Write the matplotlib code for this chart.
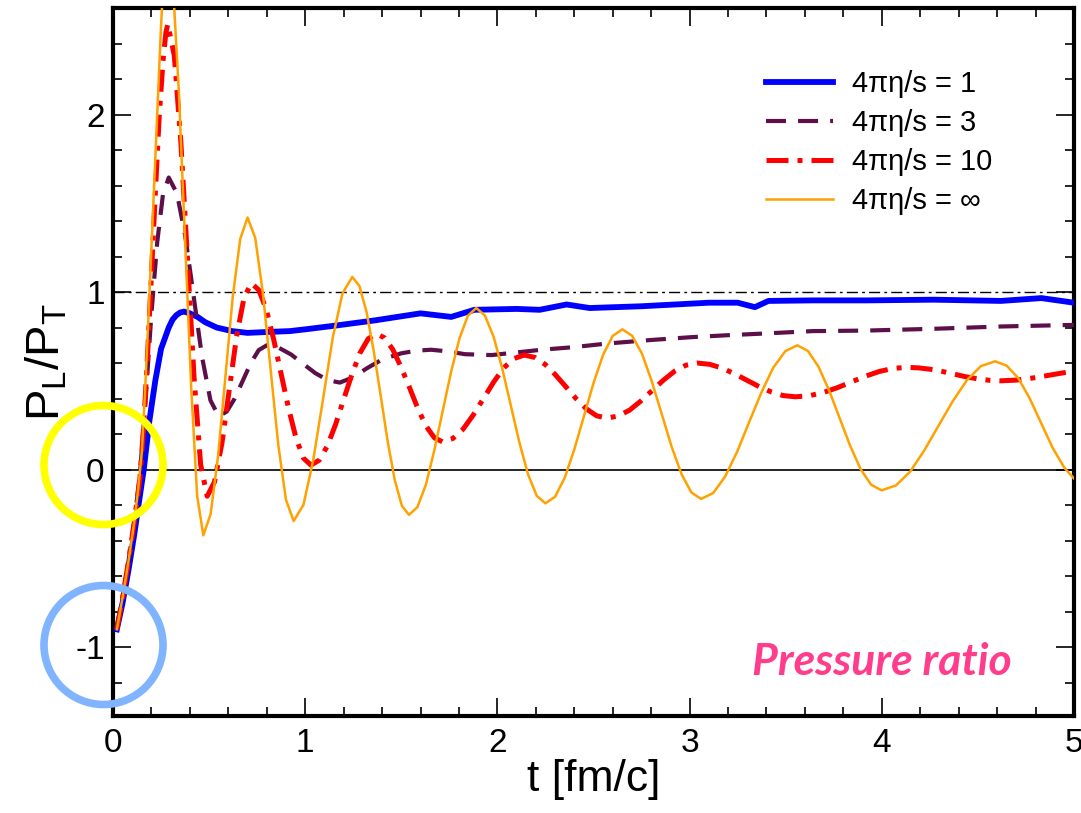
import numpy as np
import matplotlib.pyplot as plt
from matplotlib.patches import Circle

plt.rcParams['font.family'] = ['Liberation Sans', 'DejaVu Sans']
plt.rcParams['mathtext.fontset'] = 'custom'
plt.rcParams['mathtext.rm'] = 'Liberation Sans'
plt.rcParams['mathtext.it'] = 'Liberation Sans:italic'
plt.rcParams['axes.unicode_minus'] = False

# --- P_L/P_T versus proper time for several 4*pi*eta/s -----------------------
t_visc1 = [0.02, 0.05, 0.08, 0.11, 0.13, 0.16, 0.19, 0.22, 0.25, 0.29, 0.31,
           0.33, 0.35, 0.37, 0.40, 0.44, 0.48, 0.54, 0.62, 0.70, 0.80, 0.92,
           1.00, 1.15, 1.36, 1.60, 1.68, 1.76, 1.88, 2.10, 2.22, 2.36, 2.48,
           2.75, 3.10, 3.25, 3.34, 3.41, 3.64, 3.92, 4.27, 4.62, 4.83, 5.00]
r_visc1 = [-0.90, -0.75, -0.57, -0.37, -0.22, 0.00, 0.28, 0.50, 0.68, 0.80,
           0.845, 0.87, 0.885, 0.89, 0.88, 0.86, 0.83, 0.80, 0.78, 0.77,
           0.775, 0.78, 0.79, 0.81, 0.84, 0.88, 0.87, 0.86, 0.90, 0.905,
           0.90, 0.93, 0.91, 0.92, 0.94, 0.94, 0.915, 0.95, 0.953, 0.953,
           0.957, 0.95, 0.966, 0.94]

t_visc3 = [0.02, 0.05, 0.08, 0.11, 0.14, 0.17, 0.20, 0.23, 0.26, 0.29, 0.333,
           0.377, 0.42, 0.463, 0.507, 0.55, 0.592, 0.633, 0.675, 0.717, 0.758,
           0.80, 0.863, 0.927, 0.99, 1.053, 1.117, 1.18, 1.25, 1.32, 1.40,
           1.50, 1.58, 1.655, 1.75, 1.83, 1.97, 2.10, 2.23, 2.40, 2.57, 2.80,
           3.01, 3.20, 3.36, 3.64, 3.92, 4.27, 4.62, 5.00]
r_visc3 = [-0.90, -0.72, -0.52, -0.30, -0.03, 0.40, 0.88, 1.28, 1.55, 1.645,
           1.555, 1.309, 0.973, 0.636, 0.39, 0.30, 0.327, 0.40, 0.50, 0.60,
           0.673, 0.70, 0.686, 0.648, 0.595, 0.543, 0.504, 0.49, 0.52, 0.57,
           0.62, 0.655, 0.670, 0.675, 0.665, 0.65, 0.645, 0.66, 0.675, 0.69,
           0.71, 0.73, 0.746, 0.757, 0.765, 0.78, 0.783, 0.793, 0.806, 0.815]

t_visc10 = [0.02, 0.05, 0.08, 0.11, 0.14, 0.16, 0.18, 0.20, 0.22, 0.24, 0.26,
            0.275, 0.285, 0.319, 0.353, 0.388, 0.422, 0.456, 0.49, 0.528,
            0.567, 0.605, 0.643, 0.682, 0.72, 0.759, 0.798, 0.836, 0.875,
            0.914, 0.953, 0.991, 1.03, 1.073, 1.115, 1.158, 1.20, 1.243,
            1.285, 1.328, 1.37, 1.413, 1.456, 1.499, 1.543, 1.586, 1.629,
            1.672, 1.715, 1.768, 1.821, 1.874, 1.928, 1.981, 2.034, 2.087,
            2.14, 2.194, 2.248, 2.301, 2.355, 2.409, 2.463, 2.516, 2.57,
            2.629, 2.688, 2.746, 2.805, 2.864, 2.923, 2.981, 3.04, 3.104,
            3.168, 3.231, 3.295, 3.359, 3.423, 3.486, 3.55, 3.623, 3.695,
            3.768, 3.84, 3.913, 3.985, 4.058, 4.13, 4.191, 4.253, 4.314,
            4.375, 4.436, 4.498, 4.559, 4.62, 4.70, 4.80, 4.90, 5.00]
r_visc10 = [-0.90, -0.72, -0.52, -0.30, -0.05, 0.25, 0.65, 1.10, 1.55, 1.98,
            2.30, 2.46, 2.51, 2.332, 1.845, 1.18, 0.515, 0.028, -0.15, -0.07,
            0.15, 0.45, 0.75, 0.97, 1.05, 1.011, 0.90, 0.733, 0.538, 0.342,
            0.175, 0.064, 0.025, 0.053, 0.133, 0.254, 0.395, 0.536, 0.657,
            0.737, 0.765, 0.742, 0.676, 0.577, 0.461, 0.344, 0.245, 0.179,
            0.156, 0.175, 0.227, 0.307, 0.401, 0.494, 0.574, 0.626, 0.645,
            0.632, 0.593, 0.535, 0.468, 0.40, 0.342, 0.303, 0.29, 0.302,
            0.335, 0.386, 0.445, 0.504, 0.555, 0.588, 0.60, 0.593, 0.572,
            0.541, 0.505, 0.469, 0.438, 0.417, 0.41, 0.416, 0.434, 0.461,
            0.493, 0.525, 0.552, 0.57, 0.576, 0.573, 0.565, 0.553, 0.538,
            0.523, 0.511, 0.503, 0.50, 0.504, 0.518, 0.537, 0.555]

t_ideal = [0.02, 0.05, 0.08, 0.11, 0.13, 0.15, 0.165, 0.18, 0.19, 0.21, 0.23,
           0.25, 0.265, 0.28, 0.312, 0.343, 0.375, 0.407, 0.438, 0.47, 0.508,
           0.547, 0.585, 0.623, 0.662, 0.70, 0.74, 0.78, 0.82, 0.86, 0.90,
           0.94, 0.991, 1.042, 1.093, 1.143, 1.194, 1.245, 1.282, 1.319,
           1.356, 1.393, 1.429, 1.466, 1.503, 1.54, 1.584, 1.628, 1.671,
           1.715, 1.759, 1.803, 1.846, 1.89, 1.935, 1.98, 2.025, 2.07, 2.115,
           2.16, 2.205, 2.25, 2.30, 2.35, 2.40, 2.45, 2.50, 2.55, 2.60, 2.65,
           2.701, 2.753, 2.804, 2.855, 2.906, 2.958, 3.009, 3.06, 3.123,
           3.185, 3.248, 3.31, 3.373, 3.435, 3.498, 3.56, 3.615, 3.67, 3.725,
           3.78, 3.835, 3.89, 3.945, 4.00, 4.074, 4.148, 4.221, 4.295, 4.369,
           4.443, 4.516, 4.59, 4.65, 4.71, 4.77, 4.83, 4.89, 4.95, 5.00]
r_ideal = [-0.90, -0.72, -0.52, -0.30, -0.12, 0.10, 0.40, 0.75, 1.00, 1.50,
           2.00, 2.50, 2.80, 2.95, 2.73, 2.12, 1.29, 0.46, -0.15, -0.37,
           -0.25, 0.078, 0.525, 0.973, 1.30, 1.42, 1.305, 0.993, 0.565, 0.138,
           -0.17, -0.29, -0.198, 0.054, 0.398, 0.741, 0.993, 1.085, 1.034,
           0.889, 0.671, 0.415, 0.159, -0.059, -0.204, -0.255, -0.211, -0.085,
           0.105, 0.328, 0.55, 0.74, 0.866, 0.91, 0.868, 0.749, 0.57, 0.36,
           0.15, -0.029, -0.148, -0.19, -0.153, -0.047, 0.113, 0.30, 0.487,
           0.647, 0.753, 0.79, 0.754, 0.651, 0.495, 0.313, 0.13, -0.026,
           -0.129, -0.165, -0.132, -0.039, 0.102, 0.268, 0.433, 0.574, 0.667,
           0.70, 0.669, 0.581, 0.448, 0.292, 0.135, 0.002, -0.086, -0.117,
           -0.089, -0.011, 0.108, 0.247, 0.385, 0.504, 0.583, 0.61, 0.585,
           0.515, 0.40, 0.26, 0.12, 0.01, -0.05]

labels = ["4πη/s = 1", "4πη/s = 3", "4πη/s = 10", "4πη/s = ∞"]

W, H = 1081, 813
fig = plt.figure(figsize=(W / 100, H / 100), dpi=100)
ax = fig.add_axes([113 / W, 1 - 716 / H, (1074 - 113) / W, (716 - 8) / H])

# reference levels
ax.axhline(1.0, color="black", lw=1.0, ls=(0, (8, 3, 2, 3)), zorder=1)
ax.axhline(0.0, color="black", lw=1.2, zorder=1)

ax.plot(t_visc1, r_visc1, color="#0000ff", lw=4.2, label=labels[0], zorder=3)
ax.plot(t_visc3, r_visc3, color="#5c0f48", lw=3.0, ls=(0, (4.8, 2.9)),
        label=labels[1], zorder=3)
ax.plot(t_visc10, r_visc10, color="#ff0000", lw=3.6,
        ls=(0, (4.4, 1.8, 1.0, 1.8)), label=labels[2], zorder=3)
ax.plot(t_ideal, r_ideal, color="#ffa100", lw=1.8, label=labels[3], zorder=4)

ax.set_xlim(0, 5)
ax.set_ylim(-1.388, 2.59)
ax.set_xticks([0, 1, 2, 3, 4, 5])
ax.set_yticks([-1, 0, 1, 2])
ax.set_xticks(np.arange(0, 5.01, 0.2), minor=True)
ax.set_yticks(np.arange(-1.2, 2.61, 0.2), minor=True)
ax.tick_params(which="both", direction="in", top=True, right=True,
               labelsize=24, width=1.2)
ax.tick_params(which="major", length=13, pad=9)
ax.tick_params(axis="y", which="major", pad=6)
ax.tick_params(which="minor", length=6.5)
for s in ax.spines.values():
    s.set_linewidth(3.0)

ax.set_xlabel("t [fm/c]", fontsize=32, labelpad=0)
ax.set_ylabel(r"$\mathrm{P_L/P_T}$", fontsize=34, labelpad=4)

ax.legend(loc="upper left", bbox_to_anchor=(766 / W, 1 - 70 / H),
          bbox_transform=fig.transFigure, frameon=False, fontsize=21,
          handlelength=2.3, handletextpad=0.65, labelspacing=0.38,
          borderpad=0, borderaxespad=0)

fig.text(882 / W, 1 - 662 / H, "Pressure ratio", color="#ff3d8c",
         fontsize=32, fontweight="bold", fontstyle="italic",
         family=["Lato", "DejaVu Sans"], ha="center", va="center")

# highlight rings around the 0 and -1 tick labels
for cy, col in [(465, "#ffff00"), (645, "#80b4ff")]:
    ring = Circle((103.5 / 100, (H - cy) / 100), 0.595, fill=False, lw=5.5,
                  edgecolor=col, transform=fig.dpi_scale_trans, zorder=10,
                  clip_on=False)
    fig.add_artist(ring)

fig.savefig("out.png", dpi=100)
